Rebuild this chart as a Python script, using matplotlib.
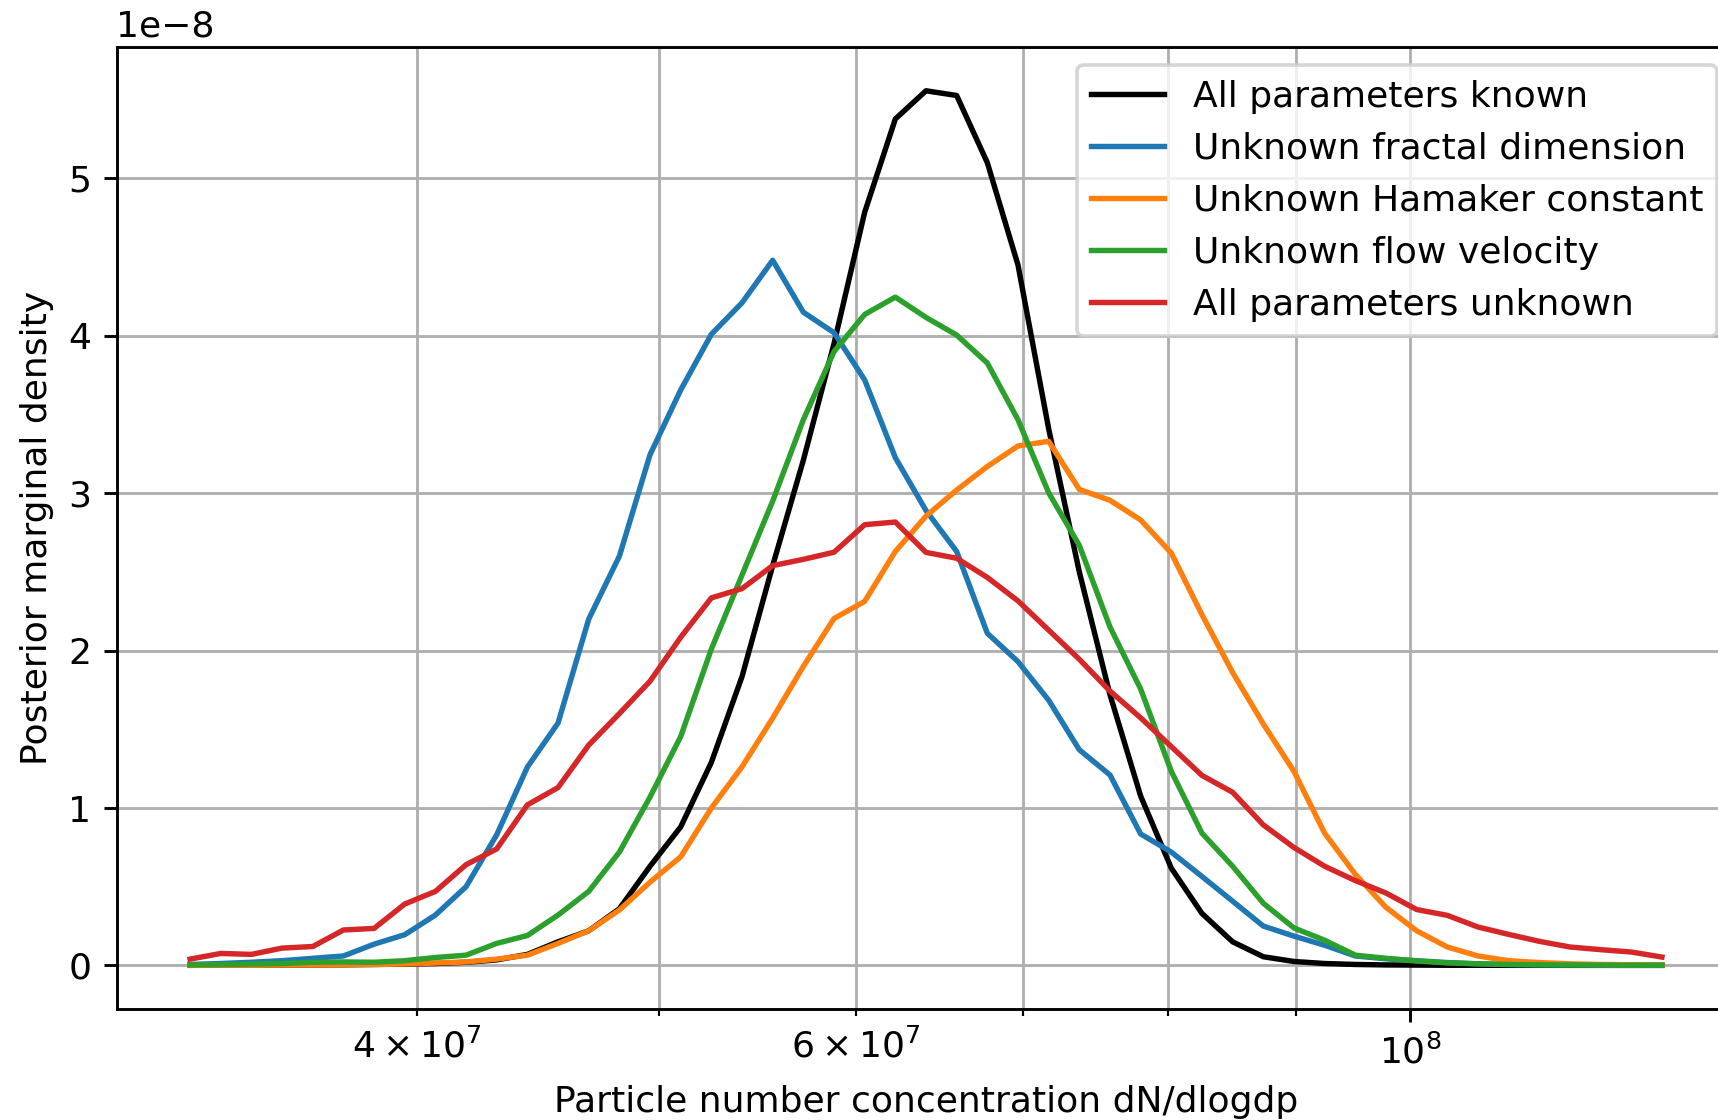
import numpy as np
import matplotlib
matplotlib.use("Agg")
import matplotlib.pyplot as plt

# bin centres (log spaced) and posterior densities, read in units of 1e-8
n_bins = 49
x_lo, x_hi = 3.245e7, 1.2618e8

all_known = [0.0005, 0.001, 0.001, 0.002, 0.003, 0.004, 0.006, 0.008, 0.012, 0.02,
             0.035, 0.07, 0.15, 0.22, 0.36, 0.63, 0.88, 1.29, 1.835, 2.54,
             3.21, 3.95, 4.785, 5.378, 5.557, 5.527, 5.10, 4.45, 3.41, 2.5,
             1.72, 1.076, 0.618, 0.33, 0.15, 0.055, 0.025, 0.012, 0.006, 0.003,
             0.002, 0.001, 0.001, 0.0005, 0.0005, 0.0003, 0.0002, 0.0001, 0.0001]

fractal = [0.006, 0.012, 0.02, 0.03, 0.045, 0.06, 0.135, 0.195, 0.32, 0.50,
           0.83, 1.26, 1.54, 2.20, 2.60, 3.245, 3.656, 4.01, 4.21, 4.48,
           4.15, 4.02, 3.72, 3.226, 2.89, 2.63, 2.11, 1.93, 1.685, 1.37,
           1.21, 0.835, 0.72, 0.565, 0.408, 0.25, 0.186, 0.128, 0.06, 0.042,
           0.03, 0.018, 0.01, 0.006, 0.004, 0.003, 0.002, 0.001, 0.001]

hamaker = [0.0005, 0.001, 0.001, 0.002, 0.003, 0.004, 0.006, 0.009, 0.015, 0.022,
           0.04, 0.065, 0.14, 0.22, 0.352, 0.529, 0.69, 1.0, 1.262, 1.571,
           1.90, 2.204, 2.313, 2.63, 2.855, 3.02, 3.17, 3.30, 3.33, 3.024,
           2.955, 2.83, 2.62, 2.228, 1.861, 1.534, 1.233, 0.84, 0.579, 0.369,
           0.22, 0.117, 0.06, 0.03, 0.018, 0.01, 0.006, 0.004, 0.002]

flow = [0.003, 0.005, 0.008, 0.012, 0.02, 0.022, 0.02, 0.03, 0.05, 0.065,
        0.14, 0.19, 0.32, 0.47, 0.72, 1.07, 1.454, 2.01, 2.48, 2.95,
        3.467, 3.90, 4.136, 4.246, 4.117, 4.005, 3.827, 3.467, 3.003, 2.669,
        2.15, 1.756, 1.233, 0.84, 0.63, 0.395, 0.238, 0.16, 0.065, 0.045,
        0.028, 0.016, 0.01, 0.006, 0.004, 0.003, 0.002, 0.001, 0.001]

all_unknown = [0.04, 0.076, 0.07, 0.11, 0.12, 0.225, 0.235, 0.39, 0.47, 0.64,
               0.74, 1.02, 1.13, 1.40, 1.60, 1.806, 2.085, 2.335, 2.394, 2.54,
               2.58, 2.625, 2.80, 2.817, 2.624, 2.587, 2.465, 2.316, 2.13, 1.945,
               1.743, 1.573, 1.39, 1.207, 1.10, 0.893, 0.749, 0.63, 0.539, 0.46,
               0.355, 0.318, 0.244, 0.197, 0.153, 0.117, 0.10, 0.085, 0.053]

labels = ["All parameters known", "Unknown fractal dimension",
          "Unknown Hamaker constant", "Unknown flow velocity",
          "All parameters unknown"]
colors = ["black", "C0", "C1", "C2", "C3"]

x = np.geomspace(x_lo, x_hi, n_bins)
series = [all_known, fractal, hamaker, flow, all_unknown]

dpi = 260
fig = plt.figure(figsize=(1718 / dpi, 1120 / dpi), dpi=dpi)
# axes runs slightly past the right edge, like the cropped original
ax = fig.add_axes([116.5 / 1718, 0.099, 1619 / 1718, 0.859])

for ys, lab, col in zip(series, labels, colors):
    ax.plot(x, np.array(ys) * 1e-8, color=col, label=lab)

ax.set_xscale("log")
ax.grid(True, which="both")
ax.set_xlabel("Particle number concentration dN/dlogdp")
ax.set_ylabel("Posterior marginal density")
ax.legend(loc="upper right")

fig.savefig("out.png", dpi=dpi)
